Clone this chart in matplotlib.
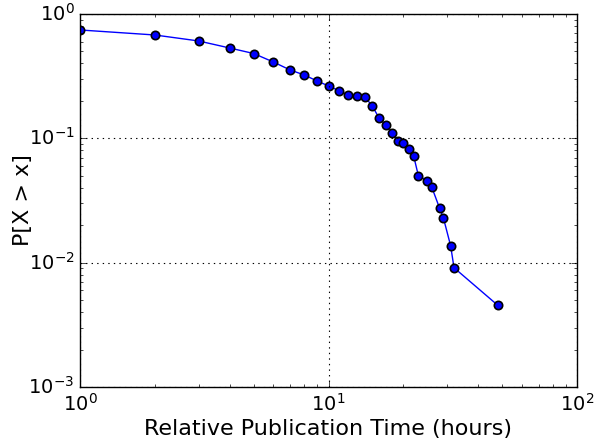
import matplotlib.pyplot as plt
import numpy as np

# publication delay (hours) and complementary CDF
hours = [1, 2, 3, 4, 5, 6, 7, 8, 9, 10, 11, 12, 13, 14, 15, 16, 17, 18, 19, 20,
         21, 22, 23, 25, 26, 28, 29, 31, 32, 48]
ccdf = [0.744, 0.678, 0.607, 0.533, 0.481, 0.411, 0.355, 0.323, 0.289, 0.264,
        0.242, 0.223, 0.219, 0.216, 0.182, 0.145, 0.128, 0.110, 0.0957, 0.0912,
        0.082, 0.0725, 0.050, 0.0456, 0.0408, 0.0274, 0.0229, 0.0137, 0.0091, 0.00454]

plt.style.use('classic')
plt.rcParams['figure.facecolor'] = 'white'
plt.rcParams['savefig.facecolor'] = 'white'

fig = plt.figure(figsize=(5.99, 4.42), dpi=100)
ax = fig.add_axes([80/599, 55/442, 497/599, 373/442])
ax.plot(hours, ccdf, '-o', color='blue', markeredgecolor='black', markersize=6,
        markeredgewidth=1.2, linewidth=1)
ax.set_xscale('log')
ax.set_yscale('log')
ax.set_xlim(1, 100)
ax.set_ylim(1e-3, 1)
ax.grid(True, which='major', color='black', linestyle=':', linewidth=0.8)
ax.tick_params(labelsize=14)
ax.set_xlabel('Relative Publication Time (hours)', fontsize=16, labelpad=3)
ax.set_ylabel('P[X > x]', fontsize=16, labelpad=-3)
plt.savefig('out.png', dpi=100)
